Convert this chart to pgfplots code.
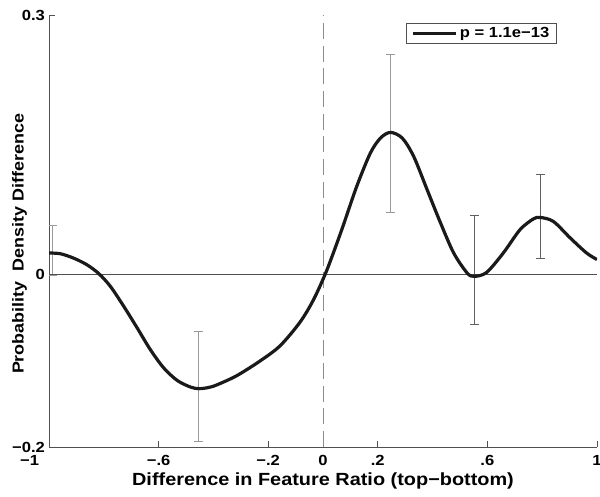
\documentclass[border=0pt]{standalone}
\usepackage{fontspec}
\setmainfont{Liberation Sans}[FakeStretch=1.13]
\usepackage{pgfplots}
\pgfplotsset{compat=1.18}

\definecolor{axisgray}{HTML}{505050}
\definecolor{barlight}{HTML}{9A9A9A}
\definecolor{bardark}{HTML}{606060}
\definecolor{dashgray}{HTML}{8C8C8C}
\definecolor{curve}{HTML}{1A1A1A}

\begin{document}
\begin{tikzpicture}
\begin{axis}[
  scale only axis, width=411pt, height=324pt,
  xmin=-1, xmax=1, ymin=-0.2, ymax=0.3,
  axis x line*=bottom, axis y line*=left,
  axis line style={axisgray, line width=0.6pt, -},
  tick style={axisgray, line width=0.6pt},
  tick align=inside, major tick length=4.5pt,
  xtick={-1,-0.6,-0.2,0,0.2,0.6,1},
  xticklabels={\makebox[0pt][r]{−1\hspace*{7.5pt}},−.6,−.2,0,.2,.6,1},
  ytick={-0.2,0,0.3},
  yticklabels={−0.2,0,0.3},
  ticklabel style={font=\fontsize{11}{12}\selectfont\bfseries},
  xticklabel style={yshift=-3pt},
  yticklabel style={xshift=0.5pt},
  xlabel={Difference in Feature Ratio (top−bottom)},
  ylabel={Probability\ \ Density Difference},
  xlabel style={font=\fontsize{13.2}{15}\selectfont\bfseries,
    at={(axis description cs:0.5,-0.0787)}, anchor=center},
  ylabel style={font=\fontsize{11.9}{14}\selectfont\bfseries,
    at={(axis description cs:-0.0538,0.47)}, anchor=center},
  legend style={at={(rel axis cs:1,1)}, anchor=north east,
    xshift=-30pt, yshift=-6pt, draw=axisgray, line width=0.6pt,
    font=\fontsize{11}{12}\selectfont\bfseries,
    inner xsep=3.5pt, inner ysep=1pt},
  legend image code/.code={\draw[#1] (0pt,0pt) -- (32pt,0pt);},
]
\coordinate (bl) at (rel axis cs:0,0);
\coordinate (tr) at (rel axis cs:1,1);

% error bars (lighter group)
\addplot[draw=none, no markers, forget plot,
  error bars/.cd, y dir=both, y explicit,
  error bar style={draw=barlight, line width=0.75pt},
  error mark options={draw=barlight, rotate=90, mark size=3.4pt, line width=0.75pt}]
  coordinates {
    (-0.987, 0.02740) +- (0, 0.02910)
    (-0.456,-0.1305)  +- (0, 0.0636)
    ( 0.247, 0.1626)  +- (0, 0.0911)
  };
% error bars (darker group)
\addplot[draw=none, no markers, forget plot,
  error bars/.cd, y dir=both, y explicit,
  error bar style={draw=bardark, line width=0.75pt},
  error mark options={draw=bardark, rotate=90, mark size=3.4pt, line width=0.75pt}]
  coordinates {
    ( 0.552, 0.0050)  +- (0, 0.0635)
    ( 0.793, 0.0666)  +- (0, 0.0483)
  };

% reference lines
\addplot[axisgray, line width=0.6pt, forget plot] coordinates {(-1,0) (1,0)};
\addplot[dashgray, line width=0.75pt, dash pattern=on 12pt off 5pt, forget plot]
  coordinates {(0,-0.2) (0,0.3)};

% density difference curve
\addplot[curve, line width=2.4pt, smooth, line join=round] coordinates {
  (-1.000, 0.0245) (-0.959, 0.0237) (-0.911, 0.0187) (-0.862, 0.0110)
  (-0.818, 0.0006) (-0.776,-0.0141) (-0.727,-0.0373) (-0.678,-0.0623)
  (-0.630,-0.0874) (-0.581,-0.1086) (-0.532,-0.1230) (-0.484,-0.1306)
  (-0.454,-0.1325) (-0.420,-0.1313) (-0.388,-0.1282) (-0.315,-0.1175)
  (-0.230,-0.1005) (-0.157,-0.0830) (-0.084,-0.0556) (-0.035,-0.0298)
  ( 0.008, 0.0000) ( 0.040, 0.0265) ( 0.074, 0.0565) ( 0.123, 0.1016)
  ( 0.173, 0.1403) ( 0.210, 0.1576) ( 0.246, 0.1641) ( 0.289, 0.1576)
  ( 0.331, 0.1363) ( 0.380, 0.0978) ( 0.429, 0.0593) ( 0.477, 0.0245)
  ( 0.526, 0.0014) ( 0.552,-0.0025) ( 0.597, 0.0020) ( 0.658, 0.0245)
  ( 0.719, 0.0515) ( 0.768, 0.0640) ( 0.793, 0.0657) ( 0.841, 0.0610)
  ( 0.902, 0.0420) ( 0.962, 0.0245) ( 1.000, 0.0170)
};
\addlegendentry{p = 1.1e−13}
\end{axis}
\pgfresetboundingbox
\path[use as bounding box] ([xshift=-36.75pt,yshift=-37.5pt]bl) rectangle ([xshift=2.25pt,yshift=11.25pt]tr);
\end{tikzpicture}
\end{document}
